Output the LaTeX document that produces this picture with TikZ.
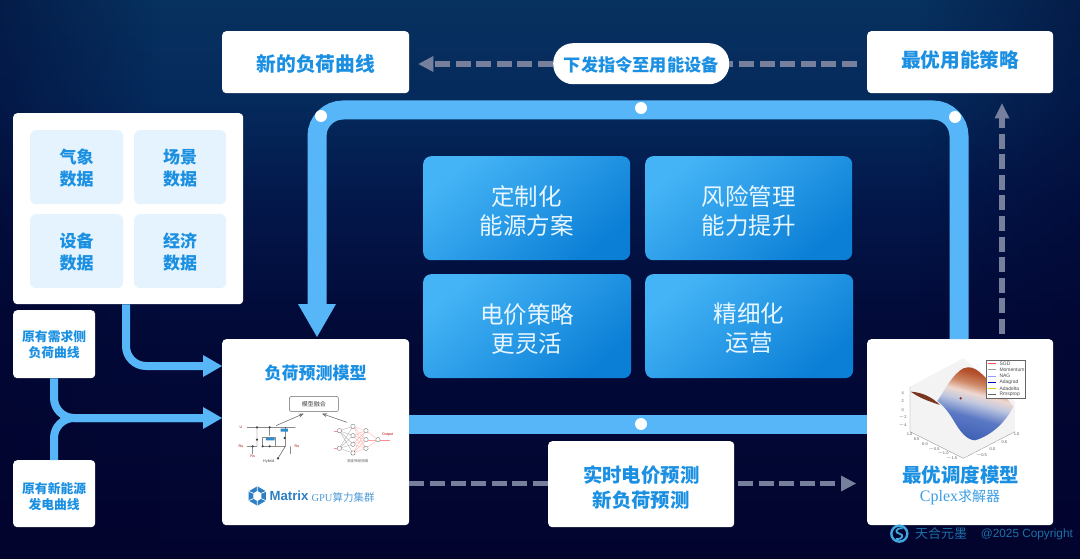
\documentclass[tikz,border=0pt]{standalone}
\usepackage{fontspec}
\setmainfont{Noto Sans CJK SC}
\newfontfamily\serifl{Liberation Serif}
\newfontfamily\sansl{Liberation Sans}
\usetikzlibrary{arrows.meta,calc,positioning,fadings}
\definecolor{flow}{HTML}{57B6F8}
\definecolor{dashc}{HTML}{76809C}
\definecolor{ink}{HTML}{1B90E2}
\definecolor{pale}{HTML}{E4F3FD}
\definecolor{wm}{HTML}{1C70A8}
\definecolor{bga}{HTML}{02042E}
\definecolor{bgb}{HTML}{020A38}
\definecolor{bgc}{HTML}{03174A}
\definecolor{bgd}{HTML}{052A5C}
\definecolor{bge}{HTML}{07315F}
\definecolor{boxa}{HTML}{45B4F6}
\definecolor{boxb}{HTML}{0B7FD6}
\definecolor{sa}{HTML}{3F5FB5}
\definecolor{sb}{HTML}{5A78C4}
\definecolor{sc}{HTML}{C0C8E0}
\definecolor{sd}{HTML}{EED8D0}
\definecolor{se}{HTML}{D08A68}
\definecolor{sf}{HTML}{B5522F}
\definecolor{sg}{HTML}{A04020}
\definecolor{circ}{HTML}{2A8CCB}
\definecolor{mxa}{HTML}{2C7FC4}
\definecolor{mxb}{HTML}{2F80C4}
\definecolor{mxc}{HTML}{4F9BD8}
\definecolor{wall}{HTML}{F3F3F3}
\definecolor{fin}{HTML}{7A3520}
\definecolor{pt}{HTML}{8E2A20}
\definecolor{subc}{HTML}{3C9EE6}
\definecolor{wml}{HTML}{3FA6DE}
\definecolor{ctext}{HTML}{E8F6FF}
\tikzset{
  x=1pt,y=-1pt,
  whitebox/.style={fill=white,rounded corners=4pt,inner sep=0pt},
  lab/.style={inner sep=0pt,align=center,text=ink,font=\bfseries},
  paleBox/.style={fill=pale,rounded corners=6pt,inner sep=0pt,minimum width=93pt,minimum height=74pt},
  palelab/.style={inner sep=0pt,align=center,text=ink,yshift=-1pt,font=\fontsize{17}{22}\selectfont\bfseries},
  thinflow/.style={draw=flow,line width=8pt,rounded corners=20pt},
  bigflow/.style={draw=flow,line width=19pt,rounded corners=26pt},
  dashflow/.style={draw=dashc,line width=5.3pt,dash pattern=on 15pt off 5.6pt},
  dot/.style={circle,fill=white,minimum size=12pt,inner sep=0pt},
  tiny/.style={font=\sansl\fontsize{4}{4.5}\selectfont,text=black!65,inner sep=0pt},
  legtxt/.style={font=\sansl\fontsize{5}{5.5}\selectfont,text=black!70,inner sep=0pt},
  redtiny/.style={font=\sansl\fontsize{3.6}{4}\selectfont,text=red!70!black,inner sep=0pt},
  net/.style={circle,draw=black!55,fill=white,line width=.35pt,minimum size=4.4pt,inner sep=0pt},
}
\pgfdeclareverticalshading{bgv}{100bp}{
  color(0bp)=(bga); color(25bp)=(bga); color(46bp)=(bgb); color(57bp)=(bgc);
  color(66bp)=(bgd); color(75bp)=(bge); color(100bp)=(bge)}
\pgfdeclareverticalshading{surf}{100bp}{
  color(0bp)=(sa); color(25bp)=(sa); color(40bp)=(sb); color(50bp)=(sc);
  color(56bp)=(sd); color(62bp)=(se); color(69bp)=(sf); color(75bp)=(sg); color(100bp)=(sg)}
\begin{document}
\begin{tikzpicture}
\useasboundingbox (0,0) rectangle (1080,559);
\shade[shading=bgv] (0,0) rectangle (1080,559);
\fill[bga,opacity=.45,path fading=east] (0,0) rectangle (160,559);
\fill[bga,opacity=.45,path fading=west] (920,0) rectangle (1080,559);

% white boxes
\node[whitebox,anchor=north west,minimum width=187pt,minimum height=62pt,
  label={[lab,yshift=-2pt,font=\fontsize{19.7}{24}\selectfont\bfseries]center:新的负荷曲线}] (newcurve) at (222,31) {};
\node[whitebox,anchor=north west,minimum width=186pt,minimum height=62pt,
  label={[lab,yshift=2pt,font=\fontsize{19.7}{24}\selectfont\bfseries]center:最优用能策略}] (strategy) at (867,31) {};
\node[whitebox,rounded corners=20pt,anchor=north west,minimum width=176pt,minimum height=41pt,
  label={[lab,yshift=-1.5pt,font=\fontsize{17.2}{24}\selectfont\bfseries]center:下发指令至用能设备}] (pill) at (553,43) {};

\node[whitebox,anchor=north west,minimum width=230pt,minimum height=191pt] (data) at (13,113) {};
\node[paleBox,anchor=north west,label={[palelab]center:{气象\\数据}}] (d1) at (30,130) {};
\node[paleBox,anchor=north west,minimum width=92pt,label={[palelab]center:{场景\\数据}}] (d2) at (134,130) {};
\node[paleBox,anchor=north west,label={[palelab]center:{设备\\数据}}] (d3) at (30,214) {};
\node[paleBox,anchor=north west,minimum width=92pt,label={[palelab]center:{经济\\数据}}] (d4) at (134,214) {};

\node[whitebox,anchor=north west,minimum width=82pt,minimum height=68pt,
  label={[lab,font=\fontsize{12.8}{16}\selectfont\bfseries]center:{原有需求侧\\负荷曲线}}] (demand) at (13,310) {};
\node[whitebox,anchor=north west,minimum width=82pt,minimum height=67pt,
  label={[lab,yshift=-3pt,font=\fontsize{12.8}{16}\selectfont\bfseries]center:{原有新能源\\发电曲线}}] (gen) at (13,460) {};

\node[whitebox,anchor=north west,minimum width=187pt,minimum height=186pt] (model) at (222,339) {};
\node[whitebox,anchor=north west,minimum width=186pt,minimum height=186pt] (opt) at (867,339) {};
\node[whitebox,anchor=north west,minimum width=186pt,minimum height=86pt,
  label={[lab,yshift=-3pt,font=\fontsize{19.4}{25}\selectfont\bfseries]center:{实时电价预测\\新负荷预测}}] (mid) at (548,441) {};

% central blue boxes
\foreach \n/\xx/\yy/\w/\s/\t in {c1/423/156/207/-3/定制化\\能源方案, c2/645/156/207/-3/风险管理\\能力提升, c3/423/274/208/-2.5/电价策略\\更灵活, c4/645/274/208/-1.5/精细化\\运营}{
  \node[rounded corners=8pt,inner sep=0pt,minimum width=\w pt,minimum height=104pt,anchor=north west,
        top color=boxa,bottom color=boxb,shading angle=40,
        label={[inner sep=0pt,align=center,text=ctext,yshift=\s pt,font=\fontsize{23.5}{29}\selectfont]center:{\t}}] (\n) at (\xx,\yy) {};
}

% thin flows
\coordinate (a1) at ($(data.south west)+(113,0)$);
\coordinate (a1t) at (model.west |- 0,366);
\draw[thinflow] (a1) -- (a1 |- a1t) -- ($(a1t)+(-17,0)$);
\fill[flow] (a1t) -- ++(-19,-11) -- ++(0,22) -- cycle;
\coordinate (a2) at ($(demand.south west)+(41,0)$);
\coordinate (a3) at ($(gen.north west)+(41,0)$);
\coordinate (a2t) at (model.west |- 0,418);
\draw[thinflow] (a2) -- (a2 |- a2t) -- ($(a2t)+(-17,0)$);
\draw[thinflow] (a3) -- (a3 |- a2t) -- ($(a2t)+(-17,0)$);
\fill[flow] (a2t) -- ++(-19,-11) -- ++(0,22) -- cycle;

% main loop
\coordinate (lb) at (model.east |- 0,424);
\coordinate (rb) at (opt.west |- 0,424);
\draw[draw=flow,line width=19pt] (lb) -- (rb);
\coordinate (rs) at ($(opt.north west)+(92,0)$);
\coordinate (tip) at ($(model.north west)+(95,-2)$);
\draw[bigflow] (rs) -- (rs |- 0,110) -- (tip |- 0,110) -- ($(tip)+(0,-30)$);
\fill[flow] (tip) -- ++(-19,-33) -- ++(38,0) -- cycle;
\node[dot] (p1) at (321,116) {};
\node[dot] (p2) at (641,108) {};
\node[dot] (p3) at (955,117) {};
\node[dot] (p4) at (641,424) {};

% dashed flows
\coordinate (tl) at (newcurve.east |- 0,64);
\draw[dashflow] (pill.west |- tl) -- ($(tl)+(24,0)$);
\fill[dashc] ($(tl)+(9,0)$) -- ++(15,-8) -- ++(0,16) -- cycle;
\draw[dashflow] ($(strategy.west |- tl)+(-10,0)$) -- (pill.east |- tl);
\coordinate (vs) at ($(opt.north west)+(135,-5)$);
\coordinate (vt) at ($(strategy.south west)+(135,10)$);
\draw[dashflow] (vs) -- ($(vt)+(0,14)$);
\fill[dashc] (vt) -- ++(-7.5,15) -- ++(15,0) -- cycle;
\coordinate (ml) at (model.east |- 0,483.5);
\draw[dashflow] (ml) -- (mid.west |- ml);
\coordinate (mt) at (opt.west |- ml);
\draw[dashflow] ($(mid.east |- ml)+(3.5,0)$) -- ($(mt)+(-32,0)$);
\fill[dashc] ($(mt)+(-11,0)$) -- ++(-15,-8) -- ++(0,16) -- cycle;

% ---- model box content
\node[text=ink,font=\fontsize{17}{20}\selectfont\bfseries,inner sep=0pt] (mtitle) at (315.5,373) {负荷预测模型};
\begin{scope}[shift={(222,339)},x=0.3333pt,y=-0.3333pt]
  \node[draw=black!60,rounded corners=2pt,line width=.5pt,minimum width=49pt,minimum height=15pt,inner sep=0pt,font=\fontsize{6}{7}\selectfont,text=black!75] (fusion) at (276,195) {模型融合};
  \draw[black!55,line width=.6pt,-{Stealth[length=5pt,width=4pt]}] (162,260) -- (245,224);
  \draw[black!55,line width=.6pt,-{Stealth[length=5pt,width=4pt]}] (375,250) -- (300,224);
  % circuit
  \draw[black!70,line width=.45pt] (75,265) -- (220,265) (75,322) -- (105,322) (105,265) -- (105,322) (92,322) -- (92,345)
     (143,265) -- (143,290) (122,295) -- (122,322) -- (190,322) -- (190,265) (122,295) -- (160,295) (160,295) -- (160,322) (190,322) -- (168,358) (205,322) -- (205,345);
  \fill[circ] (132,296) rectangle (158,304) (176,269) rectangle (198,278);
  \foreach \p in {(105,265),(143,265),(105,302),(122,322),(143,322),(188,297),(92,322),(168,358)} \fill[black!75] \p circle (1.2pt);
  \node[redtiny] (l1) at (57,264) {U};
  \node[redtiny] (l2) at (57,322) {Ru};
  \node[redtiny] (l3) at (92,352) {Rs};
  \node[redtiny] (l4) at (225,322) {Ro};
  % network
  \foreach \n/\xx/\yy in {a/352/275,b/352/328,c/393/262,d/393/290,e/393/316,f/393/342,g/432/275,h/432/302,i/432/328,j/468/302}{
    \coordinate (\n) at (\xx,\yy);}
  \foreach \s in {a,b}\foreach \t in {c,d,e,f}\draw[black!35,line width=.3pt] (\s)--(\t);
  \foreach \s in {c,d,e,f}\foreach \t in {g,h,i}\draw[red!35,line width=.3pt] (\s)--(\t);
  \foreach \s in {g,h,i}\draw[red!35,line width=.3pt] (\s)--(j);
  \draw[red!45,line width=.3pt] (j) -- (505,302) (335,275) -- (a) (335,328) -- (b);
  \foreach \n in {a,b,c,d,e,f,g,h,i,j}\node[net] (N\n) at (\n) {};
  \node[redtiny] (l5) at (497,287) {Output};
  \node[font=\fontsize{3.6}{4}\selectfont,text=black!60,inner sep=0pt] (l6) at (407,367) {深度神经网络};
  \node[tiny] (l7) at (140,368) {Hybrid};
  % Matrix logo
  \fill[mxa] (106,442) -- (132,457) -- (132,485) -- (106,500) -- (80,485) -- (80,457) -- cycle;
  \fill[white] (106,456) -- (118,463) -- (118,479) -- (106,486) -- (94,479) -- (94,463) -- cycle;
  \draw[white,line width=.7pt] (106,442) -- (106,456) (132,457) -- (118,463) (132,485) -- (118,479) (106,500) -- (106,486) (80,485) -- (94,479) (80,457) -- (94,463);
  \node[anchor=west,inner sep=0pt,text=mxb,font=\sansl\fontsize{13.2}{16}\selectfont\bfseries] (mx) at (142,470) {Matrix};
  \node[anchor=west,inner sep=0pt,text=mxc,font=\fontsize{10.5}{12}\selectfont] (gpu) at (268,476) {{\serifl GPU}算力集群};
\end{scope}

% ---- optimiser box content
\begin{scope}[shift={(860,335)},x=0.3333pt,y=-0.3333pt]
  \fill[wall] (150,155) -- (310,70) -- (465,200) -- (465,290) -- (310,370) -- (150,290) -- cycle;
  \draw[black!45,line width=.3pt] (150,155) -- (150,290) -- (310,370) -- (465,290);
  \fill[fin] (152,170) .. controls (185,172) and (215,185) .. (240,210) .. controls (205,198) and (180,190) .. cycle;
  \shade[shading=surf,shading angle=-15] (232,198) .. controls (255,165) and (275,120) .. (310,100) .. controls (330,92) and (345,100) .. (360,112)
     .. controls (400,150) and (435,180) .. (460,215) .. controls (440,255) and (400,300) .. (345,316)
     .. controls (320,315) and (300,290) .. (280,255) .. controls (265,230) and (250,212) .. cycle;
  \fill[pt] (302,190) circle (1.3pt);
  \draw[black!60,fill=white,line width=.45pt] (378,76) rectangle (497,190);
  \foreach \y/\c/\t in {86/red!70/SGD,104/black!40/Momentum,123/blue!40/NAG,142/blue!80!black/Adagrad,161/yellow!80!black/Adadelta,179/black!60/Rmsprop}{
    \draw[\c,line width=.45pt] (385,\y) -- (408,\y);
    \node[legtxt,anchor=west] (leg\y) at (418,\y) {\t};
  }
  \foreach \y/\t in {173/4,199/2,225/0,248/$-$2,272/$-$4}{\node[tiny] (zt\y) at (128,\y) {\t};}
  \foreach \xx/\yy/\t in {149/298/1.0,170/312/0.5,195/326/0.0,222/342/$-$0.5,249/355/$-$1.0,275/370/$-$1.5}{\node[tiny] (xt\xx) at (\xx,\yy) {\t};}
  \foreach \xx/\yy/\t in {470/298/1.0,433/320/0.5,397/341/0.0,364/362/$-$0.5}{\node[tiny] (yt\xx) at (\xx,\yy) {\t};}
\end{scope}
\node[text=ink,font=\fontsize{19.5}{23}\selectfont\bfseries,inner sep=0pt] (otitle) at (960.5,475) {最优调度模型};
\node[text=subc,font=\fontsize{14}{17}\selectfont,inner sep=0pt] (osub) at (960,497) {{\serifl\fontsize{16}{17}\selectfont Cplex}求解器};

% watermark
\begin{scope}[shift={(860,335)},x=0.3333pt,y=-0.3333pt]
  \draw[wml,line width=2.4pt] (118,596) circle (8pt);
  \draw[wml,line width=1.8pt] (128,580) .. controls (106,578) and (104,594) .. (118,596) .. controls (132,598) and (130,614) .. (108,612);
  \node[anchor=west,inner sep=0pt,text=wm,font=\fontsize{13}{15}\selectfont] (wm1) at (165,597) {天合元墨};
  \node[anchor=west,inner sep=0pt,text=wm,font=\sansl\fontsize{11.8}{15}\selectfont] (wm2) at (362,597) {@2025 Copyright};
\end{scope}
\end{tikzpicture}
\end{document}
